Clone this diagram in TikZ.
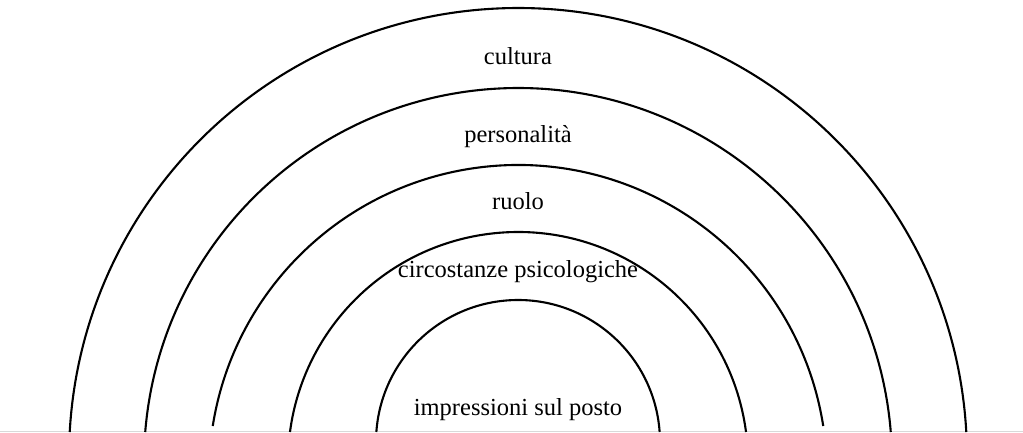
\documentclass[tikz,border=0pt]{standalone}
\usepackage{fontspec}
\setmainfont{Liberation Serif}
\begin{document}
\begin{tikzpicture}[
                x=1pt,
                y=1pt,
                ring/.style={
                    draw,
                    line width=2.1pt
                },
                ringtext/.style={
                    font=\fontsize{24.5}{28}\selectfont,
                    anchor=base
                }]

                \useasboundingbox (0,0) rectangle (1023,432);
                \draw [black!15, line width=1pt] (0,0.5) -- (1023,0.5);

                % centre y / radius / end height of each arc
                \foreach \cy/\r/\yend in {-25/449/0, -30/374/0, -42/309/6, -30/230/0, -10/142/0}{
                    \pgfmathsetmacro\ang{asin((\yend-\cy)/\r)}
                    \draw [ring] (518,\cy) ++(\ang:\r) arc [start angle=\ang, end angle=180-\ang, radius=\r];
                }

                \node [ringtext] (cultura) at (518,367) {cultura};
                \node [ringtext] (personalita) at (518,289) {personalità};
                \node [ringtext] (ruolo) at (518,223) {ruolo};
                \node [ringtext] (circostanze) at (518,155) {circostanze psicologiche};
                \node [ringtext] (impressioni) at (518,17) {impressioni sul posto};

            \end{tikzpicture}
\end{document}
